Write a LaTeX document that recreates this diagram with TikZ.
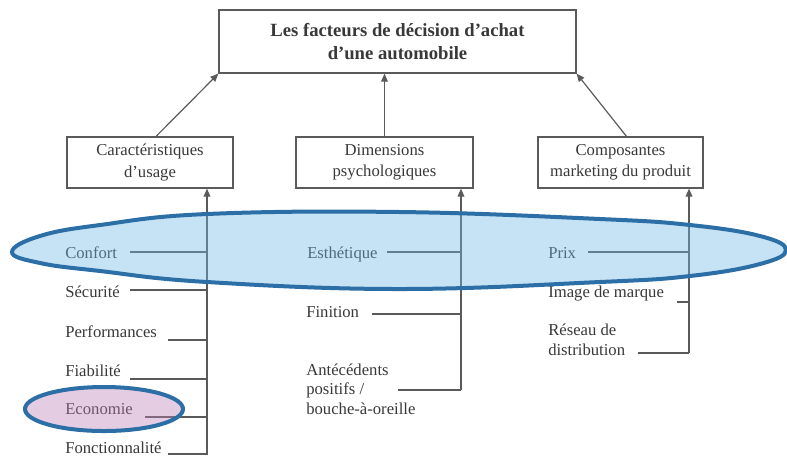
\documentclass[tikz,border=0pt]{standalone}
\usepackage{fontspec}
\setmainfont{Liberation Serif}
\usetikzlibrary{arrows.meta}
\definecolor{txtgray}{HTML}{383838}
\definecolor{linegray}{HTML}{5A5A5A}
\definecolor{hlblue}{HTML}{70B6E6}
\definecolor{hlborder}{HTML}{2C6EA6}
\definecolor{hlpink}{HTML}{BB7FB6}

\begin{document}
\begin{tikzpicture}[x=0.75pt,y=-0.75pt,
    catbox/.style={draw=linegray, line width=0.9pt, minimum width=#1,
      minimum height=38.25pt, inner sep=2pt, align=center, text=txtgray,
      font=\fontsize{12.5}{16}\selectfont},
    item/.style={anchor=base west, inner sep=0pt, align=left, text=txtgray,
      font=\fontsize{12.5}{14.5}\selectfont},
    tick/.style={draw=linegray, line width=0.9pt},
    uparrow/.style={tick, -{Triangle[length=6pt,width=5pt]}}]
    \useasboundingbox (0,0) rectangle (787,455);

    % main box and the three families
    \node[catbox=267.75pt, minimum height=47.25pt,
          font=\fontsize{14}{17}\selectfont\bfseries] (achat) at (397.5,41.5)
          {Les facteurs de décision d'achat\\d'une automobile};
    \node[catbox=124.5pt] (usage) at (150,162.5) {Caractéristiques\\d'usage};
    \node[catbox=132.75pt] (psycho) at (384.5,162.5) {Dimensions\\psychologiques};
    \node[catbox=123.75pt] (marketing) at (620.5,162.5) {Composantes\\marketing du produit};

    \draw[uparrow] (usage.north)++(6,0) coordinate (usagetop) -- (achat.south west);
    \draw[uparrow] (psycho.north) -- (psycho.north |- achat.south);
    \draw[uparrow] (marketing.north)++(6,0) coordinate (marktop) -- (achat.south east);

    % usage
    \coordinate (ubot) at (207,455);
    \node[item] (confort) at (65,258) {Confort};
    \node[item] (securite) at (65,297) {Sécurité};
    \node[item] (perf) at (65,337) {Performances};
    \node[item] (fiab) at (65,376) {Fiabilité};
    \node[item] (eco) at (65,414) {Economie};
    \node[item] (fonct) at (65,453) {Fonctionnalité};
    \coordinate (lconfort) at (130,252);
    \coordinate (lsecurite) at (130,290);
    \coordinate (lperf) at (168,340);
    \coordinate (lfiab) at (130,379);
    \coordinate (leco) at (145,417);
    \coordinate (lfonct) at (168,454);
    \foreach \l in {lconfort,lsecurite,lperf,lfiab,leco,lfonct}
        \draw[tick] (\l) -- (\l -| ubot);
    \draw[uparrow] (ubot) -- (ubot |- usage.south);

    % psychologie
    \coordinate (pbot) at (461,390);
    \node[item] (esth) at (307,258) {Esthétique};
    \node[item] (finition) at (306,317) {Finition};
    \node[item] (antec) at (306,414) {Antécédents\\positifs /\\bouche-à-oreille};
    \coordinate (lesth) at (387,252);
    \coordinate (lfinition) at (372,314);
    \coordinate (lantec) at (398,390);
    \foreach \l in {lesth,lfinition,lantec}
        \draw[tick] (\l) -- (\l -| pbot);
    \draw[uparrow] (pbot) -- (pbot |- psycho.south);

    % marketing
    \coordinate (mbot) at (689,353);
    \node[item] (prix) at (548,258) {Prix};
    \node[item] (image) at (548,297) {Image de marque};
    \node[item] (reseau) at (548,355) {Réseau de\\distribution};
    \coordinate (lprix) at (588,252);
    \coordinate (limage) at (677,302);
    \coordinate (lreseau) at (638,353);
    \foreach \l in {lprix,limage,lreseau}
        \draw[tick] (\l) -- (\l -| mbot);
    \draw[uparrow] (mbot) -- (mbot |- marketing.south);

    % highlights
    \draw[hlborder, line width=3pt, fill=hlblue, fill opacity=0.4]
        plot[smooth cycle, tension=0.7] coordinates {(12,252) (40,236) (100,225)
        (207,214) (400,212) (600,219) (690,225) (760,236) (786,250) (760,264)
        (690,276) (600,282) (400,289) (207,282) (100,271) (40,263)};
    \draw[hlborder, line width=3pt, fill=hlpink, fill opacity=0.4]
        (104,409) ellipse [x radius=79, y radius=22];
\end{tikzpicture}
\end{document}
